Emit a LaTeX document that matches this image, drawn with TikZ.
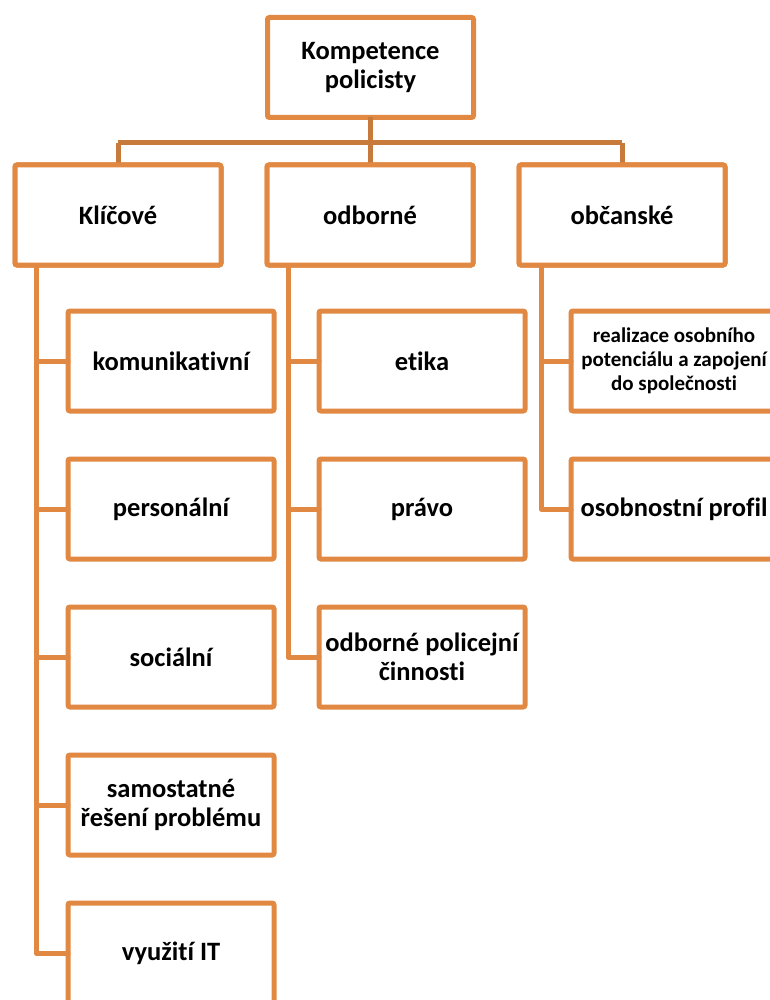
\documentclass[tikz,border=0pt]{standalone}
\usepackage{fontspec}
\setmainfont{Carlito}[Ligatures={NoCommon}]
\definecolor{boxor}{RGB}{225,137,66}
\definecolor{busor}{RGB}{200,122,58}
\tikzset{
  x=1pt, y=-1pt,
  box/.style={draw=boxor, line width=5pt, rounded corners=2pt, fill=white,
    minimum width=206pt, minimum height=100pt, inner sep=0pt, outer sep=0pt,
    align=center, font=\fontsize{26.5}{29.5}\selectfont\bfseries},
  smallbox/.style={box, font=\fontsize{21}{24}\selectfont\bfseries},
  bus/.style={draw=busor, line width=5pt},
  link/.style={draw=boxor, line width=5pt, line join=round, line cap=round},
}
\begin{document}
\begin{tikzpicture}
\useasboundingbox (0,0) rectangle (770,1000);
\clip (0,0) rectangle (770,1000);
% level 0
\node[box] (root) at (370.5,67.5) {Kompetence\\policisty};
% level 1
\node[box] (kl) at (118,215) {Klíčové};
\node[box] (od) at (370,215) {odborné};
\node[box] (ob) at (622,215) {občanské};
% level 2 left
\node[box] (k1) at (171,361) {komunikativní};
\node[box] (k2) at (171,509) {personální};
\node[box] (k3) at (171,657) {sociální};
\node[box] (k4) at (171,805) {samostatné\\řešení problému};
\node[box] (k5) at (171,953) {využití IT};
% level 2 middle
\node[box] (o1) at (422,361) {etika};
\node[box] (o2) at (422,509) {právo};
\node[box] (o3) at (422,657) {odborné policejní\\činnosti};
% level 2 right
\node[smallbox] (b1) at (674,361) {realizace osobního\\potenciálu a zapojení\\do společnosti};
\node[box] (b2) at (674,509) {osobnostní profil};
% bus
\coordinate (busy) at (0,143);
\draw[bus] (root.south) -- (root.south |- busy);
\draw[bus] (kl.north |- busy) -- (ob.north |- busy);
\draw[bus] (kl.north |- busy) -- (kl.north);
\draw[bus] (od.north |- busy) -- (od.north);
\draw[bus] (ob.north |- busy) -- (ob.north);
% column connectors
\coordinate (kx) at (36,0);
\coordinate (ox) at (288,0);
\coordinate (bx) at (541,0);
\foreach \c in {k1,k2,k3,k4,k5} \draw[link] (kl.south -| kx) |- (\c.west);
\foreach \c in {o1,o2,o3} \draw[link] (od.south -| ox) |- (\c.west);
\foreach \c in {b1,b2} \draw[link] (ob.south -| bx) |- (\c.west);
% redraw level-1 boxes on top of link ends
\node[box] at (kl) {Klíčové};
\node[box] at (od) {odborné};
\node[box] at (ob) {občanské};
\end{tikzpicture}
\end{document}
